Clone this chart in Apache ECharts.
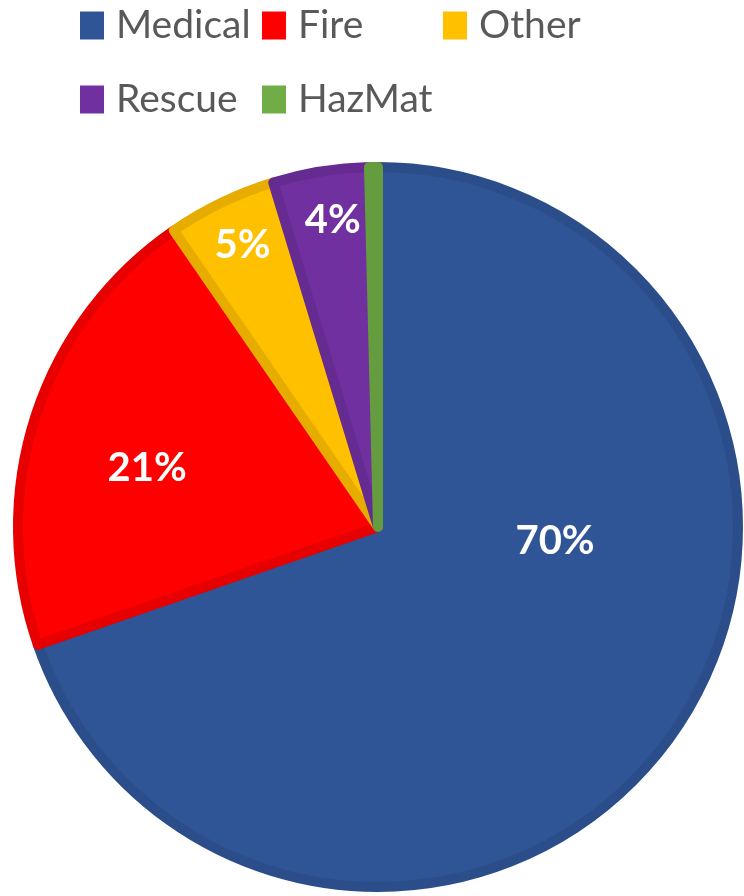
<!DOCTYPE html>
<html>
<head>
<meta charset="utf-8">
<script src="https://cdn.jsdelivr.net/npm/echarts@6/dist/echarts.min.js"></script>
<style>
  html, body { margin: 0; padding: 0; background: #fff; }
  #chart { width: 744px; height: 896px; }
</style>
</head>
<body>
<div id="chart"></div>
<script>
const categories = ['Medical', 'Fire', 'Other', 'Rescue', 'HazMat'];
const shares = [69.7, 20.7, 4.9, 4.3, 0.4];

const fillColors = ['#2F5597', '#FF0000', '#FFC000', '#7030A0', '#70AD47'];
const edgeColors = ['#2B4E8A', '#E60000', '#E6AC00', '#652B90', '#659C40'];
// legend grid slots (Excel lays the legend out in columns)
const legendSlots = [[80, 6], [262, 6], [443, 6], [80, 80], [262, 80]];
// nudges for the in-slice percentage labels
const labelNudge = [[28, -92], [-57, -2], [-56, -117], [-16, -126], [0, 0]];

const chart = echarts.init(document.getElementById('chart'));

const legends = categories.map((name, i) => ({
  data: [name],
  left: legendSlots[i][0],
  top: legendSlots[i][1],
  padding: 0,
  icon: 'rect',
  itemWidth: 24,
  itemHeight: 28,
  itemStyle: { borderWidth: 0 },
  textStyle: {
    fontFamily: 'Lato',
    fontSize: 39,
    color: '#595959',
    lineHeight: 28,
    padding: [0, 0, 0, 7]
  }
}));

chart.setOption({
  animation: false,
  legend: legends,
  series: [
    {
      name: 'Calls',
      type: 'pie',
      center: [378, 527],
      radius: [0, 360],
      startAngle: 90,
      clockwise: true,
      avoidLabelOverlap: false,
      emphasis: { disabled: true },
      itemStyle: { borderWidth: 10 },
      label: {
        show: true,
        position: 'inside',
        fontFamily: 'Lato',
        fontWeight: 'bold',
        fontSize: 40,
        color: '#fff',
        formatter: (p) => Math.round(p.value) + '%'
      },
      labelLine: { show: false },
      labelLayout: (p) => ({ dx: labelNudge[p.dataIndex][0], dy: labelNudge[p.dataIndex][1] }),
      data: categories.map((name, i) => ({
        name: name,
        value: shares[i],
        itemStyle: { color: fillColors[i], borderColor: edgeColors[i] },
        label: { show: i < 4 }
      }))
    }
  ]
});
</script>
</body>
</html>
